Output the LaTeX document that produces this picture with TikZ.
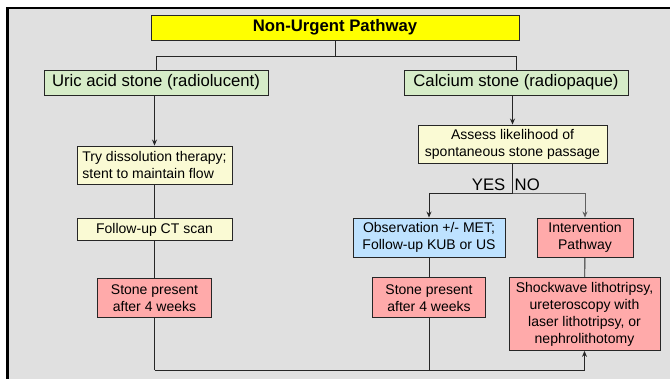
\documentclass[tikz,border=0pt]{standalone}
\usepackage{fontspec}
\setmainfont{Liberation Sans}
\usepackage{xcolor}
\usepackage{tikz}
\usetikzlibrary{positioning, calc, arrows.meta}

\definecolor{panelgray}{RGB}{224,224,224}
\definecolor{titleyellow}{RGB}{255,255,0}
\definecolor{stonegreen}{RGB}{214,236,200}
\definecolor{stepyellow}{RGB}{250,250,212}
\definecolor{alertpink}{RGB}{255,170,170}
\definecolor{watchblue}{RGB}{190,226,255}

\begin{document}
\begin{tikzpicture}[
  x=1pt, y=1pt,
  >={Stealth[length=6pt,width=5pt]},
  every node/.style={align=center, inner sep=0pt},
  box/.style={rectangle, draw=black!85, line width=0.9pt},
  headbox/.style={box, fill=titleyellow, font=\fontsize{16.7}{20}\selectfont\bfseries},
  typebox/.style={box, fill=stonegreen, font=\fontsize{16.7}{20}\selectfont},
  stepbox/.style={box, fill=stepyellow, font=\fontsize{14}{17}\selectfont},
  alertbox/.style={box, fill=alertpink, font=\fontsize{14}{17}\selectfont},
  watchbox/.style={box, fill=watchblue, font=\fontsize{14}{17}\selectfont},
  flow/.style={draw=black!85, line width=0.9pt},
  noflow/.style={draw=gray!75!black, line width=0.9pt},
  answer/.style={font=\fontsize{16.7}{20}\selectfont}
]

% --- Panel ---
\useasboundingbox (0,0) rectangle (670,-379);
\fill[panelgray] (8,-9) rectangle (670,-379);
\draw[line width=2.7pt] (7.3,-379) |- (670,-8);

% --- Header and stone types ---
\node[headbox, minimum width=368, minimum height=25] (title) at (335,-27.5) {Non-Urgent Pathway};
\node[typebox, minimum width=224, minimum height=25] (uric) at (156,-82.5) {Uric acid stone (radiolucent)};
\node[typebox, minimum width=224, minimum height=25] (calcium) at (516,-82.5) {Calcium stone (radiopaque)};

% --- Uric acid branch ---
\node[stepbox, minimum width=155, minimum height=38, align=left] (try) at (154.5,-165) {Try dissolution therapy;\\stent to maintain flow};
\node[stepbox, minimum width=155, minimum height=22, below=34 of try] (ct) {Follow-up CT scan};
\node[alertbox, minimum width=114, minimum height=39, below=37 of ct] (stoneL) {Stone present\\after 4 weeks};

% --- Calcium branch ---
\node[stepbox, minimum width=189, minimum height=38] (assess) at (512.5,-144) {Assess likelihood of\\spontaneous stone passage};
\node[watchbox, minimum width=152, minimum height=39] (obs) at (429,-237.5) {Observation +/- MET;\\Follow-up KUB or US};
\node[alertbox, minimum width=96, minimum height=39] (interv) at (585,-237.5) {Intervention\\Pathway};
\node[alertbox, minimum width=113, minimum height=40, below=20 of obs] (stoneM) {Stone present\\after 4 weeks};
\node[alertbox, minimum width=151, minimum height=73, anchor=north] (shock) at (584.5,-277) {Shockwave lithotripsy,\\ureteroscopy with\\laser lithotripsy, or\\nephrolithotomy};

% --- Arrows ---
\draw[flow] (title.south) -- ++(0,-15.7) coordinate (fork);
\draw[flow] (fork) -| (uric.north);
\draw[flow] (fork) -| (calcium.north);

\draw[flow, ->] (uric.south -| try.north) -- (try.north);
\draw[flow] (try) -- (ct);
\draw[flow] (ct) -- (stoneL);

\draw[flow, ->] (calcium.south -| assess.north) -- (assess.north);
\draw[flow] (assess.south) -- ++(0,-30) coordinate (split);
\draw[flow, ->] (split) -| (obs.north);
\draw[noflow, ->] (split) -| (interv.north);
\node[answer, anchor=south east] (yes) at ($(split)+(-7,2.5)$) {YES};
\node[answer, anchor=south west] (no) at ($(split)+(2,2.5)$) {NO};

\draw[flow] (obs) -- (stoneM);
\draw[flow] (interv) -- (shock);

\draw[flow] (stoneL.south) -- ++(0,-52) coordinate (floor);
\draw[flow, ->] (floor) -| (shock.south);
\draw[flow] (stoneM.south) -- (stoneM.south |- floor);

\end{tikzpicture}
\end{document}
